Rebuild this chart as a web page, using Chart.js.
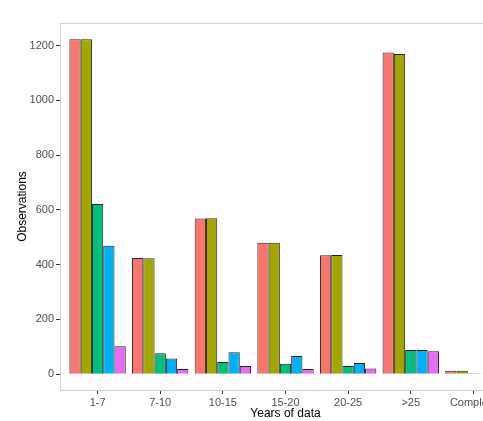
<!DOCTYPE html>
<html>
<head>
<meta charset="utf-8">
<script src="https://cdn.jsdelivr.net/npm/chart.js@4.4.0/dist/chart.umd.min.js"></script>
<style>
  html, body { margin: 0; padding: 0; background: #fff; overflow: hidden; }
  canvas { display: block; }
</style>
</head>
<body>
<canvas id="myChart" width="520" height="421"></canvas>
<script>
// Years-of-data groups on the x axis
const categories = ['1-7', '7-10', '10-15', '15-20', '20-25', '>25', 'Complete'];

const series1 = [1224, 424, 569, 480, 434, 1175, 12];
const series2 = [1224, 423, 570, 480, 435, 1170, 12];
const series3 = [622, 76, 44, 38, 30, 88, 3];
const series4 = [469, 57, 80, 66, 41, 88, 2];
const series5 = [102, 19, 30, 19, 21, 84, 2];

const yTicks = [0, 200, 400, 600, 800, 1000, 1200];

const colors = ['#F8766D', '#A3A500', '#00BF7D', '#00B0F6', '#E76BF3'];

function toPoints(values) {
  return values.map((v, i) => ({ x: i, y: v }));
}

// light grey frame round the plot panel
const panelBorder = {
  id: 'panelBorder',
  beforeDatasetsDraw(chart) {
    const { ctx, chartArea } = chart;
    ctx.save();
    ctx.strokeStyle = '#cfcfcf';
    ctx.lineWidth = 1;
    ctx.strokeRect(Math.round(chartArea.left) + 0.5, Math.round(chartArea.top) + 0.5,
      Math.round(chartArea.right - chartArea.left), Math.round(chartArea.bottom - chartArea.top));
    ctx.restore();
  }
};

const ctx = document.getElementById('myChart');

new Chart(ctx, {
  type: 'bar',
  data: {
    datasets: [series1, series2, series3, series4, series5].map((s, k) => ({
      label: 'Group ' + (k + 1),
      data: toPoints(s),
      backgroundColor: colors[k],
      borderColor: '#222222',
      borderWidth: 1,
      categoryPercentage: 0.9,
      barPercentage: 1.0
    }))
  },
  options: {
    responsive: false,
    animation: false,
    devicePixelRatio: 1,
    layout: { padding: { top: 23, right: 9, bottom: 0, left: 0 } },
    plugins: {
      legend: { display: false },
      tooltip: { enabled: false }
    },
    scales: {
      x: {
        type: 'linear',
        offset: false,
        min: -0.6,
        max: categories.length - 1 + 0.6,
        afterBuildTicks: (scale) => {
          scale.ticks = categories.map((_, i) => ({ value: i }));
        },
        afterFit: (scale) => { scale.height = 31; },
        grid: { offset: false, drawOnChartArea: false, drawTicks: true, tickLength: 4, tickColor: '#333333' },
        border: { display: false },
        ticks: {
          autoSkip: false,
          maxRotation: 0,
          padding: 2,
          color: '#4d4d4d',
          font: { family: 'Liberation Sans, Arial, sans-serif', size: 11 },
          callback: (value) => categories[value]
        },
        title: {
          display: true,
          text: 'Years of data',
          color: '#000000',
          font: { family: 'Liberation Sans, Arial, sans-serif', size: 12 },
          padding: { top: 0, bottom: 0 }
        }
      },
      y: {
        min: -58,
        max: 1283,
        afterBuildTicks: (scale) => {
          scale.ticks = yTicks.map(v => ({ value: v }));
        },
        afterFit: (scale) => { scale.width = 60; },
        grid: { drawOnChartArea: false, drawTicks: true, tickLength: 4, tickColor: '#333333' },
        border: { display: false },
        ticks: {
          padding: 2,
          color: '#4d4d4d',
          font: { family: 'Liberation Sans, Arial, sans-serif', size: 11 },
          callback: (value) => String(value)
        },
        title: {
          display: true,
          text: 'Observations',
          color: '#000000',
          font: { family: 'Liberation Sans, Arial, sans-serif', size: 12 },
          padding: { top: 15, bottom: 0 }
        }
      }
    }
  },
  plugins: [panelBorder]
});
</script>
</body>
</html>
